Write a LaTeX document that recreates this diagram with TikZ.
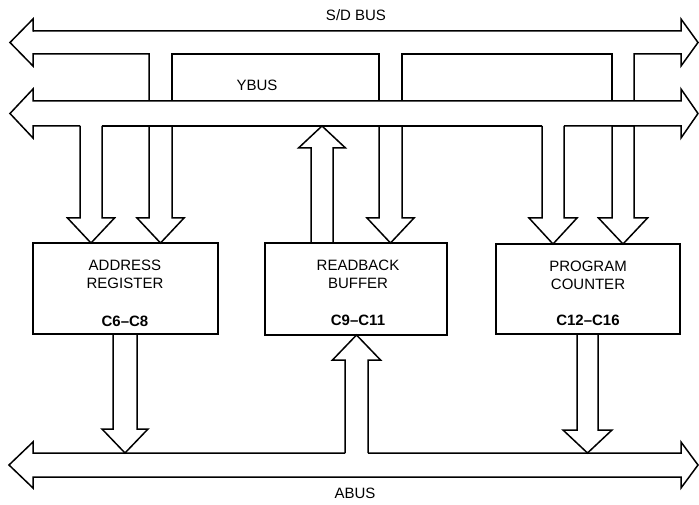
\documentclass[tikz,border=0pt]{standalone}
\usepackage{fontspec}
\setmainfont{Liberation Sans}
\tikzset{
  busline/.style={line width=1.5pt, line join=miter},
  regbox/.style={draw, line width=2.8pt, inner sep=0pt},
  lbl/.style={font=\fontsize{15}{17}\selectfont, inner sep=0pt},
  blbl/.style={font=\fontsize{15}{17}\selectfont\bfseries, inner sep=0pt},
}
% vertical hollow arrow: #1 cx, #2 half stem, #3 half head, #4 y start, #5 y head base, #6 y tip
\newcommand\vhollow[6]{%
  \draw[busline] ({#1-#2},#4) -- ({#1-#2},#5) -- ({#1-#3},#5) -- (#1,#6)
     -- ({#1+#3},#5) -- ({#1+#2},#5) -- ({#1+#2},#4);}
\newcommand\vhollowc[6]{%
  \draw[busline] ({#1-#2},#4) -- ({#1-#2},#5) -- ({#1-#3},#5) -- (#1,#6)
     -- ({#1+#3},#5) -- ({#1+#2},#5) -- ({#1+#2},#4) -- cycle;}
\begin{document}
\begin{tikzpicture}[x=1pt,y=-1pt]
\useasboundingbox (0,0) rectangle (699,505);

% ---------- S/D BUS ----------
\draw[busline] (33,31) -- (681,31) -- (681,19) -- (698,42.5) -- (681,66) -- (681,54)
  -- (634,54) -- (634,101);
\draw[busline] (612,101) -- (612,54) -- (402,54) -- (402,101);
\draw[busline] (379,101) -- (379,54) -- (172,54) -- (172,101);
\draw[busline] (149,101) -- (149,54) -- (33,54) -- (33,66) -- (10,42.5) -- (33,19) -- (33,31.75);
\node[lbl] (sdbus) at (356,15) {S/D BUS};

% ---------- YBUS ----------
\draw[busline] (80,126) -- (33,126) -- (33,138) -- (10,113.5) -- (33,89) -- (33,101)
  -- (681,101) -- (681,89) -- (698,113.5) -- (681,138) -- (681,126) -- (564,126);
\draw[busline] (542,126) -- (102,126);
\node[lbl] (ybus) at (257,85) {YBUS};

% ---------- ABUS ----------
\draw[busline] (345,453) -- (33,453) -- (33,442) -- (9,465) -- (33,488) -- (33,477)
  -- (681,477) -- (681,488) -- (698,465) -- (681,442) -- (681,453) -- (368,453);
\node[lbl] (abus) at (355,493) {ABUS};

% ---------- Boxes ----------
\node[regbox, minimum width=185pt, minimum height=91pt] (ar) at (125.5,288.5) {};
\node[regbox, minimum width=182pt, minimum height=92pt] (rb) at (356,289) {};
\node[regbox, minimum width=184pt, minimum height=90pt] (pc) at (588,289) {};

\node[lbl] (ar1) at (125,265) {ADDRESS};
\node[lbl] (ar2) at (125,283) {REGISTER};
\node[blbl] (ar3) at (125,321) {C6--C8};

\node[lbl] (rb1) at (358,265) {READBACK};
\node[lbl] (rb2) at (358,283) {BUFFER};
\node[blbl] (rb3) at (358,320) {C9--C11};

\node[lbl] (pc1) at (588,266) {PROGRAM};
\node[lbl] (pc2) at (588,284) {COUNTER};
\node[blbl] (pc3) at (588,320) {C12--C16};

% ---------- vertical arrows (top) ----------
\vhollow{91}{11}{23.5}{126}{218}{243}
\vhollowc{160.5}{11.5}{23.5}{126}{218}{243}
\vhollowc{390.5}{11.5}{23.5}{126}{218}{243}
\vhollow{322}{11}{23.5}{243}{148}{126}
\vhollow{553}{11}{24}{126}{218}{244}
\vhollowc{623}{11}{24.5}{126}{218}{244}

% ---------- vertical arrows (bottom) ----------
\vhollow{125}{12}{23}{334}{429}{453}
\vhollow{356.5}{11.5}{24}{453}{360}{335}
\vhollow{587.5}{10.5}{24.5}{334}{430}{453}
\end{tikzpicture}
\end{document}
